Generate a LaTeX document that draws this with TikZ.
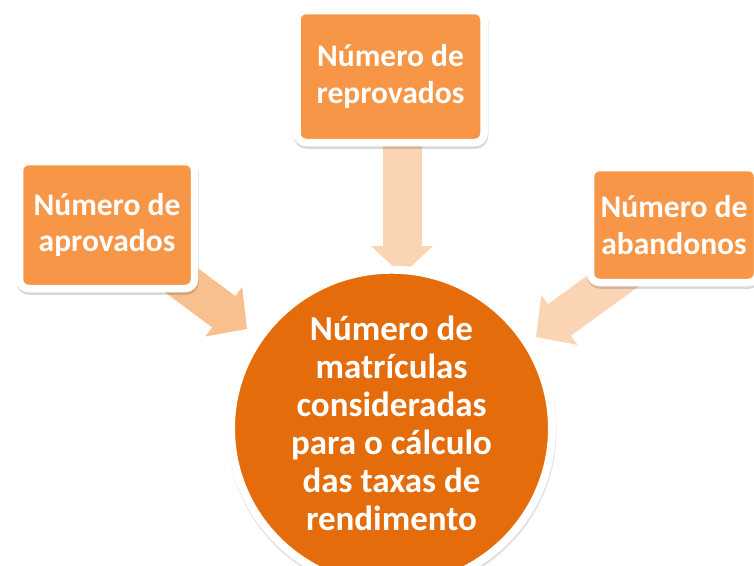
\documentclass[tikz,border=0pt]{standalone}
\usepackage{fontspec}
\setmainfont{Carlito}
\usetikzlibrary{shapes.geometric,shadows,arrows.meta,backgrounds}
\definecolor{laranja}{HTML}{F79646}
\definecolor{laranjaesc}{HTML}{E46C0A}
\definecolor{pessego}{HTML}{F9C08F}
\definecolor{pessegoclaro}{HTML}{FBD4B4}
\begin{document}
\begin{tikzpicture}[x=1pt, y=-1pt,
  caixa/.style={rectangle, rounded corners=9pt, fill=laranja, draw=white,
    line width=7.5pt, text=white, align=center, inner sep=0pt,
    font=\fontsize{31.5}{36.5}\selectfont\bfseries,
    drop shadow={opacity=0.15, shadow xshift=0.5pt, shadow yshift=-2.5pt,
      draw=black, line width=7.5pt}},
  centro/.style={ellipse, fill=laranjaesc, draw=white, line width=8pt,
    text=white, align=center, inner sep=0pt, text depth=10pt,
    font=\fontsize{35}{38}\selectfont\bfseries,
    drop shadow={opacity=0.12, shadow xshift=0.5pt, shadow yshift=-2.5pt,
      draw=black, line width=8pt}},
  seta/.style={line width=39pt, -{Triangle[width=60pt, length=29pt]}}]

\useasboundingbox (0,0) rectangle (754,565);

% ---------- caixas de entrada e o total
\node[caixa, minimum width=175pt, minimum height=127pt] (aprov) at (107,225)
  {Número de\\aprovados};
\node[caixa, minimum width=187pt, minimum height=132pt] (reprov) at (390.5,76.5)
  {Número de\\reprovados};
\node[caixa, minimum width=167pt, minimum height=115pt] (aband) at (674,225)
  {Número de\\abandonos};
\node[centro, minimum width=321pt, minimum height=271pt] (matric) at (391.5,428.5)
  {Número de\\matrículas\\consideradas\\para o cálculo\\das taxas de\\rendimento};

% ---------- setas largas, por baixo das caixas
\coordinate (pontaA) at (247,329);
\coordinate (pontaR) at (402,275);
\coordinate (pontaB) at (536,337);
\begin{scope}[on background layer]
  \draw[seta, pessego]      (aprov.center) -- (pontaA);
  \draw[seta, pessegoclaro] ([xshift=11.5pt]reprov.center) -- (pontaR);
  \draw[seta, pessegoclaro] ([xshift=16pt]aband.center) -- (pontaB);
\end{scope}
\end{tikzpicture}
\end{document}
